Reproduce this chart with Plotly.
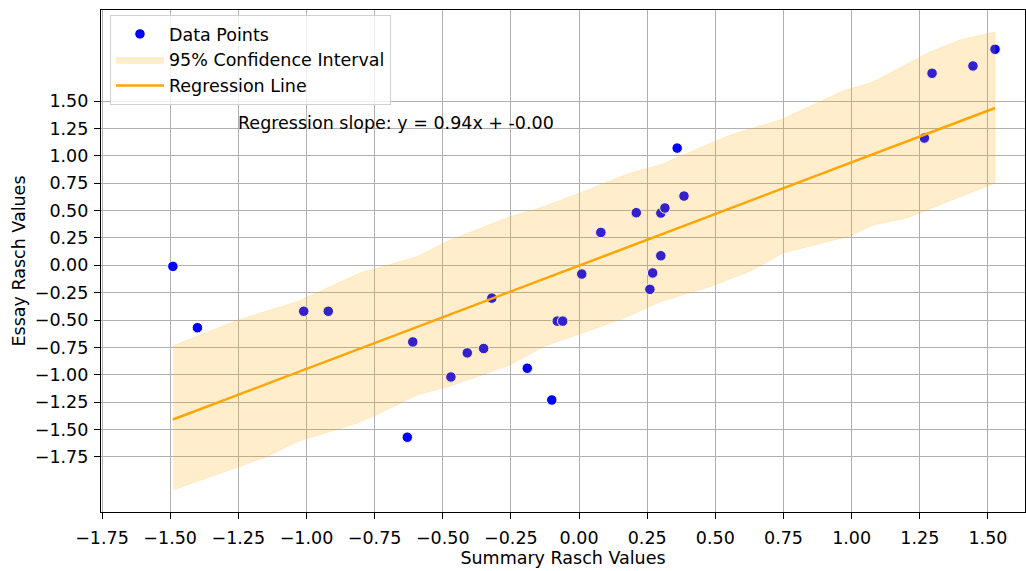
import numpy as np
import plotly.graph_objects as go

# ---- data ----
summary_x = [-1.49, -1.40, -1.01, -0.92, -0.61, -0.63, -0.47, -0.41, -0.35, -0.32,
             -0.19, -0.10, -0.08, -0.06, 0.01, 0.08, 0.21, 0.26, 0.27, 0.30,
             0.30, 0.315, 0.36, 0.385, 1.267, 1.295, 1.445, 1.526]
essay_y = [-0.01, -0.57, -0.42, -0.42, -0.70, -1.57, -1.02, -0.80, -0.76, -0.30,
           -0.94, -1.23, -0.51, -0.51, -0.08, 0.30, 0.48, -0.22, -0.07, 0.087,
           0.477, 0.523, 1.07, 0.632, 1.162, 1.753, 1.82, 1.972]

ci_upper_x = [-1.49, -1.251, -1.035, -0.939, -0.804, -0.594, -0.473, -0.253, -0.143,
              0.003, 0.187, 0.297, 0.381, 0.554, 0.737, 0.884, 0.968, 1.078, 1.177,
              1.287, 1.397, 1.526]
ci_upper_y = [-0.737, -0.500, -0.333, -0.226, -0.071, 0.078, 0.231, 0.443, 0.523,
              0.660, 0.842, 0.916, 1.007, 1.189, 1.326, 1.491, 1.591, 1.674, 1.801,
              1.947, 2.057, 2.130]
ci_lower_x = [-1.49, -1.145, -1.035, -0.815, -0.730, -0.594, -0.473, -0.253, -0.132,
              0.077, 0.176, 0.297, 0.480, 0.638, 0.748, 0.994, 1.078, 1.203, 1.324,
              1.526]
ci_lower_y = [-2.053, -1.748, -1.611, -1.443, -1.349, -1.185, -1.103, -0.911, -0.744,
              -0.561, -0.470, -0.333, -0.196, -0.043, 0.112, 0.267, 0.368, 0.432, 0.550,
              0.751]

reg_slope = 0.943
reg_intercept = -0.003

x_ticks = [-1.75, -1.5, -1.25, -1.0, -0.75, -0.5, -0.25, 0.0, 0.25, 0.5, 0.75, 1.0, 1.25, 1.5]
y_ticks = [-1.75, -1.5, -1.25, -1.0, -0.75, -0.5, -0.25, 0.0, 0.25, 0.5, 0.75, 1.0, 1.25, 1.5]

annotation_text = "Regression slope: y = 0.94x + -0.00"


def fmt(v):
    s = f"{v:.2f}"
    return s.replace("-", "\u2212")


FONT = "DejaVu Sans"
FS = 17.5

fig = go.Figure()

fig.add_trace(go.Scatter(
    x=summary_x, y=essay_y, mode="markers", name="Data Points",
    legendgroup="a",
    marker=dict(color="blue", size=10.5, line=dict(color="white", width=1)),
))

band_x = list(ci_upper_x) + list(reversed(ci_lower_x))
band_y = list(ci_upper_y) + list(reversed(ci_lower_y))
fig.add_trace(go.Scatter(
    x=band_x, y=band_y, mode="lines", fill="toself", name="95% Confidence Interval",
    legendgroup="b",
    fillcolor="rgba(255,165,0,0.2)", line=dict(color="rgba(255,165,0,0.15)", width=1),
))

line_x = np.array([min(summary_x), max(summary_x)])
line_y = reg_slope * line_x + reg_intercept
fig.add_trace(go.Scatter(
    x=line_x, y=line_y, mode="lines", name="Regression Line",
    legendgroup="c",
    line=dict(color="orange", width=2.5),
))

fig.add_annotation(
    x=-1.25, y=1.30, xref="x", yref="y", text=annotation_text, showarrow=False,
    xanchor="left", yanchor="middle", xshift=-2,
    font=dict(family=FONT, size=FS, color="black"),
)

axis_common = dict(
    showgrid=True, gridcolor="#b0b0b0", gridwidth=1.2,
    showline=True, linecolor="black", linewidth=1.2, mirror=True,
    ticks="outside", ticklen=6, tickwidth=1.2, tickcolor="black",
    zeroline=False, tickfont=dict(family=FONT, size=FS, color="black"),
)

fig.update_layout(
    width=1026, height=571,
    margin=dict(l=101, r=1, t=10, b=59),
    paper_bgcolor="white", plot_bgcolor="white",
    font=dict(family=FONT, size=FS, color="black"),
    xaxis=dict(range=[-1.7537, 1.636], tickvals=x_ticks, ticktext=[fmt(v) for v in x_ticks],
               ticklabelstandoff=4,
               title=dict(text="Summary Rasch Values", font=dict(family=FONT, size=FS), standoff=4),
               **axis_common),
    yaxis=dict(range=[-2.253, 2.331], tickvals=y_ticks, ticktext=[fmt(v) for v in y_ticks],
               ticklabelstandoff=2,
               title=dict(text="Essay Rasch Values", font=dict(family=FONT, size=FS), standoff=4),
               **axis_common),
    legend=dict(
        x=0.0097, y=0.99, xanchor="left", yanchor="top",
        bgcolor="rgba(255,255,255,0.8)", bordercolor="#d0d0d0", borderwidth=1,
        font=dict(family=FONT, size=FS, color="black"),
        traceorder="grouped", tracegroupgap=0, itemwidth=48,
    ),
    showlegend=True,
)

fig.write_html("out.html", post_script="document.body.style.margin='0';",
               config={"displayModeBar": False})
